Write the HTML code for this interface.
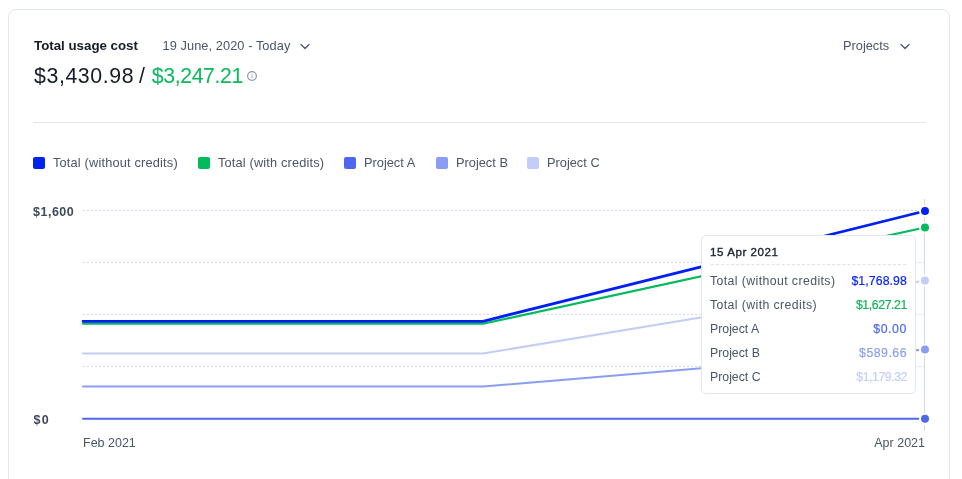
<!DOCTYPE html>
<html>
<head>
<meta charset="utf-8">
<style>
html,body{margin:0;padding:0;background:#fff;width:962px;height:479px;overflow:hidden;}
body{font-family:"Liberation Sans",sans-serif;position:relative;}
.card{position:absolute;left:8px;top:9px;width:942px;height:520px;border:1px solid #dee6ef;border-radius:8px;box-sizing:border-box;}
.t{position:absolute;white-space:pre;line-height:1;}
.title{left:34px;top:39px;font-size:13.3px;font-weight:bold;color:#151b27;}
.date{left:162.5px;top:40px;font-size:12.8px;color:#4a5568;letter-spacing:0.07px;}
.proj{left:843px;top:40px;font-size:12.8px;color:#4a5568;}
.big{top:66px;font-size:21.3px;color:#141a26;}
.green{color:#0bb95a;}
.hr{position:absolute;left:33px;top:122px;width:892px;height:1px;background:#e4e4e6;}
.sq{position:absolute;top:157px;width:12px;height:12px;border-radius:2px;}
.lg{top:157px;font-size:12.8px;color:#4a5568;}
.ylab{font-size:12.5px;font-weight:bold;color:#3c4a5c;letter-spacing:0.5px;}
.xlab{font-size:12.5px;color:#4a5568;margin-top:1px;}
.tip{position:absolute;left:701px;top:235px;width:215px;height:159px;box-sizing:border-box;border:1px solid #e2e8f0;border-radius:5px;background:#fff;}
.tr{position:absolute;left:8px;right:8px;font-size:12.3px;color:#4a5568;white-space:pre;line-height:1;}
.tr span{position:absolute;right:0;top:0;}
</style>
</head>
<body><div style="position:absolute;inset:0;will-change:transform">
<div class="card"></div>
<div class="t title">Total usage cost</div>
<div class="t date">19 June, 2020 - Today</div>
<svg style="position:absolute;left:299px;top:41.5px" width="12" height="9" viewBox="0 0 12 9"><path d="M2 2.5 L6 6.5 L10 2.5" fill="none" stroke-linecap="round" stroke-linejoin="round" stroke="#4a5568" stroke-width="1.3" stroke-linecap="round" stroke-linejoin="round"/></svg>
<div class="t proj">Projects</div>
<svg style="position:absolute;left:899px;top:41.5px" width="12" height="9" viewBox="0 0 12 9"><path d="M2 2.5 L6 6.5 L10 2.5" fill="none" stroke-linecap="round" stroke-linejoin="round" stroke="#4a5568" stroke-width="1.3" stroke-linecap="round" stroke-linejoin="round"/></svg>
<div class="t big" style="left:34px;letter-spacing:0.6px">$3,430.98</div><div class="t big" style="left:139px">/</div><div class="t big green" style="left:151.8px;letter-spacing:-0.4px">$3,247.21</div>
<svg style="position:absolute;left:246px;top:70px" width="12" height="12" viewBox="0 0 12 12"><circle cx="6" cy="6" r="4.4" fill="none" stroke="#8d9bb0" stroke-width="1.2"/><rect x="5.45" y="5.3" width="1.1" height="2.8" fill="#a6b2c4"/><rect x="5.45" y="3.6" width="1.1" height="1" fill="#a6b2c4"/></svg>
<div class="hr"></div>

<div class="sq" style="left:33px;background:#0022f0"></div><div class="t lg" style="left:53px;letter-spacing:0.17px">Total (without credits)</div>
<div class="sq" style="left:198px;background:#00ba5b"></div><div class="t lg" style="left:218px;letter-spacing:0.15px">Total (with credits)</div>
<div class="sq" style="left:344px;background:#4d68ef"></div><div class="t lg" style="left:364px">Project A</div>
<div class="sq" style="left:436px;background:#8a9df3"></div><div class="t lg" style="left:456px">Project B</div>
<div class="sq" style="left:527px;background:#c2cdf9"></div><div class="t lg" style="left:547px">Project C</div>

<svg style="position:absolute;left:0;top:0" width="962" height="479">
  <g stroke="#d1dbe9" stroke-width="1" stroke-dasharray="2 2">
    <line x1="83" y1="210.5" x2="925" y2="210.5"/>
    <line x1="83" y1="262.5" x2="925" y2="262.5"/>
    <line x1="83" y1="314.5" x2="925" y2="314.5"/>
    <line x1="83" y1="366.5" x2="925" y2="366.5"/>
  </g>
  <line x1="924.5" y1="199" x2="924.5" y2="431" stroke="#d3dbe8" stroke-width="1"/>
  <polyline points="83,418.7 925,418.7" fill="none" stroke-linecap="round" stroke-linejoin="round" stroke="#4d68ef" stroke-width="2"/>
  <polyline points="83,386.5 483,386.5 925,349.5" fill="none" stroke-linecap="round" stroke-linejoin="round" stroke="#8a9df3" stroke-width="2"/>
  <polyline points="83,353.5 483,353.5 925,280.5" fill="none" stroke-linecap="round" stroke-linejoin="round" stroke="#c2cdf9" stroke-width="2"/>
  <polyline points="83,323.7 483,323.7 925,227.5" fill="none" stroke-linecap="round" stroke-linejoin="round" stroke="#00ba5b" stroke-width="2.2"/>
  <polyline points="83,321.3 483,321.3 925,211" fill="none" stroke-linecap="round" stroke-linejoin="round" stroke="#0020f2" stroke-width="2.8"/>
  <circle cx="925" cy="211" r="5" fill="#0022f0" stroke="#fff" stroke-width="2"/>
  <circle cx="925" cy="227.5" r="5" fill="#00ba5b" stroke="#fff" stroke-width="2"/>
  <circle cx="925" cy="280.5" r="5" fill="#c2cdf9" stroke="#fff" stroke-width="2"/>
  <circle cx="925" cy="349.5" r="5" fill="#8a9df3" stroke="#fff" stroke-width="2"/>
  <circle cx="925" cy="418.7" r="5" fill="#4d68ef" stroke="#fff" stroke-width="2"/>
</svg>
<div class="t ylab" style="left:33px;top:206px">$1,600</div>
<div class="t ylab" style="left:33.5px;top:414px;letter-spacing:1.4px">$0</div>
<div class="t xlab" style="left:83px;top:436px">Feb 2021</div>
<div class="t xlab" style="right:37px;top:436px">Apr 2021</div>

<div class="tip">
  <div class="tr" style="top:10px;font-size:11.6px;color:#1a202c;-webkit-text-stroke:0.35px #1a202c;letter-spacing:0.55px">15 Apr 2021</div>
  <div style="position:absolute;left:9px;right:9px;top:28px;height:0;border-top:1px dashed #dbe2ea"></div>
  <div class="tr" style="top:39px"><b style="font-weight:normal;letter-spacing:0.4px">Total (without credits)</b><span style="color:#0626f7;-webkit-text-stroke:0.2px #0626f7;letter-spacing:0.1px">$1,768.98</span></div>
  <div class="tr" style="top:63px"><b style="font-weight:normal;letter-spacing:0.4px">Total (with credits)</b><span style="color:#12b357;-webkit-text-stroke:0.2px #12b357;letter-spacing:-0.4px">$1,627.21</span></div>
  <div class="tr" style="top:87px">Project A<span style="color:#4f6bec;-webkit-text-stroke:0.2px #4f6bec;letter-spacing:0.6px">$0.00</span></div>
  <div class="tr" style="top:111px">Project B<span style="color:#8b9ff0;-webkit-text-stroke:0.2px #8b9ff0;letter-spacing:0.5px">$589.66</span></div>
  <div class="tr" style="top:135px">Project C<span style="color:#c4cff8;-webkit-text-stroke:0.2px #c4cff8;letter-spacing:-0.45px">$1,179.32</span></div>
</div>
</div></body>
</html>
